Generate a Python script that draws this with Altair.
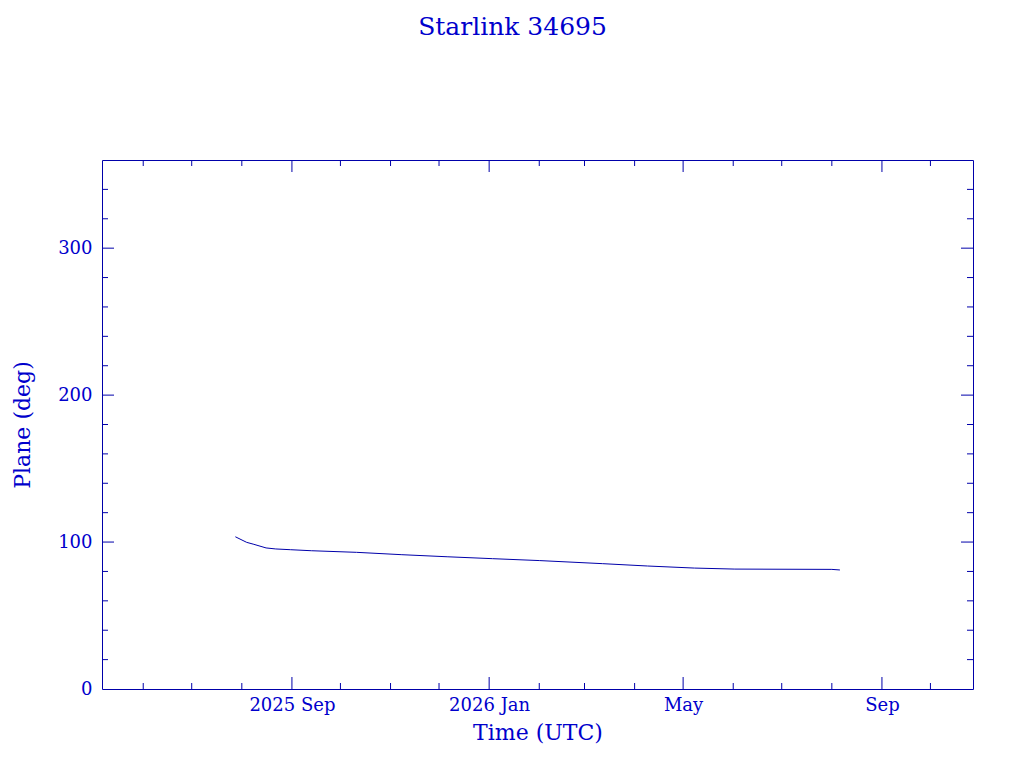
import altair as alt
import pandas as pd

# ---- data ----
dates = ["2025-07-28", "2025-08-04", "2025-08-08", "2025-08-16", "2025-08-22",
         "2025-08-31", "2025-09-13", "2025-10-11", "2025-11-08", "2025-12-06",
         "2026-01-03", "2026-02-01", "2026-03-12", "2026-04-09", "2026-05-08",
         "2026-06-02", "2026-08-01", "2026-08-06"]
plane = [103.6, 99.8, 98.6, 96.0, 95.3, 94.8, 94.1, 93.0, 91.4, 90.0,
         88.7, 87.4, 85.3, 83.7, 82.3, 81.6, 81.4, 81.0]

x_major = ["2025-09-01", "2026-01-01", "2026-05-01", "2026-09-01"]
x_minor = ["2025-06-01", "2025-07-01", "2025-08-01", "2025-10-01", "2025-11-01",
           "2025-12-01", "2026-02-01", "2026-03-01", "2026-04-01", "2026-06-01",
           "2026-07-01", "2026-08-01", "2026-10-01"]
y_major = [100, 200, 300]
y_minor = [20, 40, 60, 80, 120, 140, 160, 180, 220, 240, 260, 280, 320, 340]
y_labels = [0, 100, 200, 300]

W, H = 871, 529
STROKE = "#0000aa"
TEXT = "#0000cc"
FONT = "DejaVu Serif"

df = pd.DataFrame({"date": dates, "plane": plane})
xmaj = pd.DataFrame({"date": x_major})
xmin = pd.DataFrame({"date": x_minor})
ymaj = pd.DataFrame({"plane": y_major})
ymin = pd.DataFrame({"plane": y_minor})

xscale = alt.Scale(type="utc",
                   domain=[alt.DateTime(year=2025, month=5, date=6, hours=12, utc=True),
                           alt.DateTime(year=2026, month=10, date=27, hours=8, utc=True)])
yscale = alt.Scale(domain=[0, 360], nice=False, zero=False)

xaxis = alt.Axis(values=[alt.DateTime(year=int(d[:4]), month=int(d[5:7]), date=1, utc=True)
                         for d in x_major],
                 labelExpr="(utcmonth(datum.value)==0 || utcyear(datum.value)==2025) ? utcFormat(datum.value,'%Y %b') : utcFormat(datum.value,'%b')",
                 domain=False, ticks=False, grid=False,
                 labelPadding=7, titlePadding=8)
yaxis = alt.Axis(values=y_labels, domain=False, ticks=False,
                 grid=False, labelPadding=10, titlePadding=23)

XT = "Time (UTC)"
YT = "Plane (deg)"

line = alt.Chart(df).mark_line(color=STROKE, strokeWidth=1).encode(
    x=alt.X("date:T", scale=xscale, title=XT, axis=xaxis),
    y=alt.Y("plane:Q", scale=yscale, title=YT, axis=yaxis),
)


def xticks(data, length, top):
    if top:
        y0, y1 = 0, length
    else:
        y0, y1 = H, H - length
    return alt.Chart(data).mark_rule(color=STROKE, strokeWidth=1).encode(
        x=alt.X("date:T", scale=xscale, title=XT, axis=xaxis),
        y=alt.value(y0), y2=alt.value(y1))


def yticks(data, length, right):
    if right:
        x0, x1 = W, W - length
    else:
        x0, x1 = 0, length
    return alt.Chart(data).mark_rule(color=STROKE, strokeWidth=1).encode(
        y=alt.Y("plane:Q", scale=yscale, title=YT, axis=yaxis),
        x=alt.value(x0), x2=alt.value(x1))


chart = alt.layer(
    line,
    xticks(xmaj, 12, False), xticks(xmin, 6, False),
    xticks(xmaj, 12, True), xticks(xmin, 6, True),
    yticks(ymaj, 12, False), yticks(ymin, 6, False),
    yticks(ymaj, 12, True), yticks(ymin, 6, True),
).properties(
    width=W, height=H,
    title=alt.TitleParams("Starlink 34695", anchor="middle", dx=-25, offset=100,
                          baseline="alphabetic", font=FONT, fontSize=25,
                          fontWeight="normal", color=TEXT),
    autosize=alt.AutoSizeParams(type="none"),
    padding={"left": 94, "top": 152, "right": 30, "bottom": 60},
    background="white",
).configure_view(
    stroke=STROKE, strokeWidth=1
).configure_axis(
    labelFont=FONT, labelFontSize=18, labelColor=TEXT,
    titleFont=FONT, titleFontSize=22, titleColor=TEXT, titleFontWeight="normal",
)

chart.save("out.html", embed_options={"renderer": "svg", "actions": False})
